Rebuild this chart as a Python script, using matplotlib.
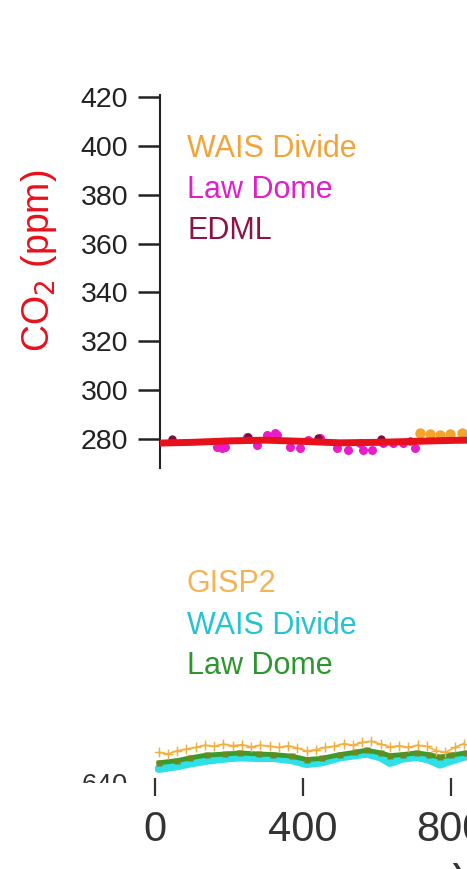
import matplotlib
matplotlib.use("Agg")
import matplotlib.pyplot as plt
from matplotlib.transforms import Bbox

plt.rcParams['font.family'] = ['Liberation Sans', 'DejaVu Sans']

# --- CO2 records (ppm) ---
co2_spline_yr = [10, 100, 200, 300, 400, 500, 600, 700, 800, 850]
co2_spline = [278.3, 278.6, 279.2, 279.5, 279.0, 278.4, 278.6, 279.0, 279.4, 279.5]

lawdome_co2_yr = [167, 180, 189, 248, 275, 302, 324, 329, 365, 392, 414, 446,
                  491, 522, 554, 563, 586, 617, 644, 671, 703]
lawdome_co2 = [276.9, 276.2, 276.9, 280.9, 277.5, 281.6, 282.3, 281.6, 276.9, 276.2,
               279.6, 280.3, 276.2, 275.5, 278.2, 275.5, 275.5, 278.2, 278.2, 278.2, 276.2]

edml_co2_yr = [45, 250, 440, 610, 690]
edml_co2 = [279.8, 280.8, 280.5, 279.8, 279.0]

wais_co2_yr = [716, 743, 770, 797, 829]
wais_co2 = [282.3, 282.0, 281.8, 282.0, 282.6]

# --- CH4 records (ppb) ---
gisp2_yr = [10, 35, 60, 85, 110, 135, 160, 185, 210, 235, 260, 285, 310, 335, 360, 385,
            410, 435, 460, 485, 510, 535, 560, 585, 610, 635, 660, 685, 710, 735, 760,
            785, 810, 835]
gisp2_ch4 = [703, 700, 706, 709, 712, 716, 714, 718, 715, 717, 713, 716, 714, 712, 715, 711,
             705, 708, 712, 714, 719, 716, 721, 723, 718, 713, 715, 712, 716, 714, 706,
             703, 712, 719]

ch4_yr = [10, 60, 95, 140, 190, 230, 280, 320, 370, 410, 450, 500, 540, 572, 610, 635,
          670, 707, 740, 770, 800, 840]
lawdome_ch4 = [684, 688, 693, 698, 700, 702, 700, 699, 696, 690, 692, 699, 703, 707, 702, 697,
               699, 702, 699, 694, 698, 702]
wais_ch4 = [673, 678, 683, 688, 692, 694, 693, 693, 689, 682, 685, 694, 698, 701, 694, 684,
            692, 695, 690, 681, 688, 696]

co2_ticks = [280, 300, 320, 340, 360, 380, 400, 420]
year_ticks = [0, 400, 800]

W, H = 467, 869
fig = plt.figure(figsize=(W / 100, H / 100), dpi=100)

# top panel: CO2
ax = fig.add_axes([160 / W, 1 - 468 / H, (W - 160) / W, (468 - 95) / H])
ax.set_xlim(13.5, 843.2)
ax.set_ylim(268.1, 420.8)
for s in ['top', 'right', 'bottom']:
    ax.spines[s].set_visible(False)
ax.spines['left'].set_linewidth(1.5)
ax.spines['left'].set_color('#222222')
ax.set_xticks([])
ax.set_yticks(co2_ticks)
ax.tick_params(axis='y', direction='out', length=16, width=1.8, pad=7,
               labelsize=20.5, colors='#222222')

ax.plot(lawdome_co2_yr, lawdome_co2, 'o', color='#e81cc8', ms=6.5, mec='none', zorder=2)
ax.plot(edml_co2_yr, edml_co2, 'o', color='#7a1038', ms=6, mec='none', zorder=2)
ax.plot(wais_co2_yr, wais_co2, 'o', color='#f2a42c', ms=7.5, mec='none', zorder=2)
ax.plot(co2_spline_yr, co2_spline, '-', color='#e8101a', lw=5, zorder=3,
        solid_capstyle='butt')

ax.set_ylabel('CO$_2$ (ppm)', color='#e8101a', fontsize=27)
ax.yaxis.set_label_coords(-0.33, 0.555)

fig.text(187 / W, 1 - 149 / H, 'WAIS Divide', color='#f2a43a', fontsize=22, va='center')
fig.text(187 / W, 1 - 190 / H, 'Law Dome', color='#e020c8', fontsize=22, va='center')
fig.text(187 / W, 1 - 231 / H, 'EDML', color='#8a1448', fontsize=22, va='center')

# bottom panel: CH4
bx = fig.add_axes([155 / W, 1 - 778 / H, (W - 155) / W, (778 - 700) / H])
bx.set_xlim(0, 843.2)
bx.set_ylim(656.4, 798.2)
for s in bx.spines.values():
    s.set_visible(False)
bx.set_yticks([])
bx.set_xticks(year_ticks)
bx.tick_params(axis='x', direction='out', length=13, width=1.6, pad=10,
               labelsize=30, colors='#333333')

bx.plot(ch4_yr, wais_ch4, '-', color='#2ee0e8', lw=6, solid_capstyle='round', zorder=2)
bx.plot(ch4_yr, lawdome_ch4, '-', color='#3a9a2a', lw=3.5, solid_capstyle='round', zorder=3)
bx.plot(ch4_yr, lawdome_ch4, 's', color='#6a8a20', ms=4, mec='none', zorder=3)
bx.errorbar(gisp2_yr, gisp2_ch4, yerr=6, fmt='+-', color='#f3b040', lw=1.2, ms=7,
            elinewidth=0.9, capsize=0, zorder=4)

fig.text(187 / W, 1 - 584 / H, 'GISP2', color='#f4b455', fontsize=22, va='center')
fig.text(187 / W, 1 - 626 / H, 'WAIS Divide', color='#26c4d0', fontsize=22, va='center')
fig.text(187 / W, 1 - 666 / H, 'Law Dome', color='#2e962e', fontsize=22, va='center')

# partly hidden CH4 tick label
t = fig.text(128 / W, 1 - 786 / H, '640', fontsize=20, color='#333333',
             ha='right', va='center')
t.set_clip_on(True)
t.set_clip_box(Bbox.from_extents(0, H - 783, W, H))

# axis title mostly below the figure edge
fig.text(452 / W, 1 - 861 / H, 'Year (CE)', fontsize=30, color='#333333',
         ha='left', va='top')

fig.savefig('out.png', dpi=100)
